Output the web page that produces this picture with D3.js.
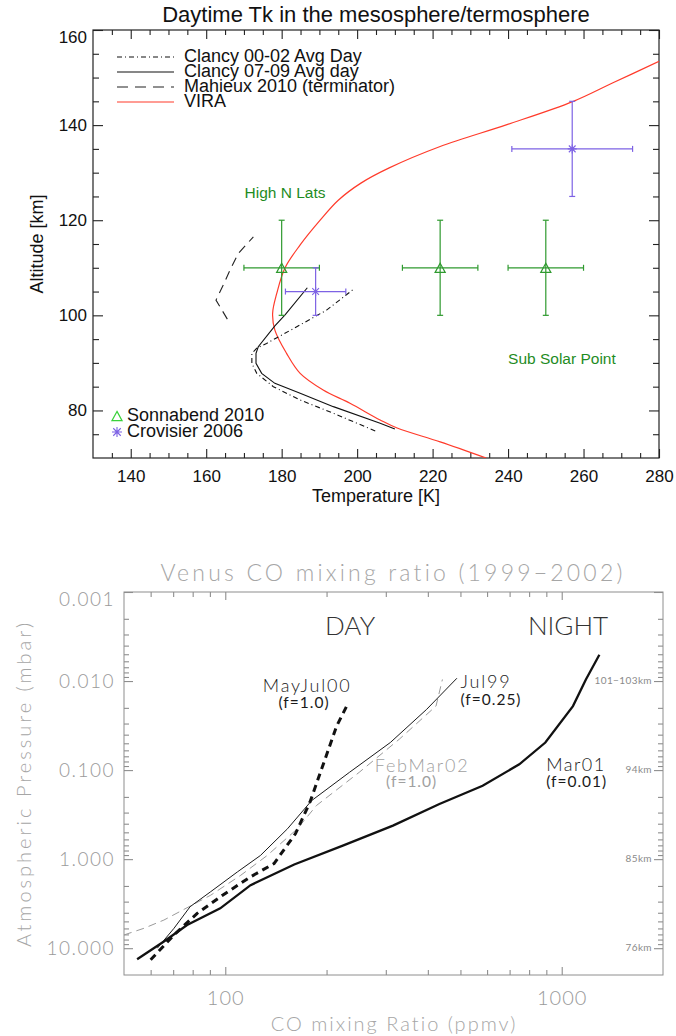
<!DOCTYPE html>
<html>
<head>
<meta charset="utf-8">
<script src="https://cdn.jsdelivr.net/npm/d3@7"></script>
<style>
  body { margin: 0; background: #fff; }
  svg { display: block; }
</style>
</head>
<body>
<svg id="chart" width="676" height="1036"></svg>
<script>
// ---------------- Panel 1: daytime kinetic temperature ----------------
const tempTicks = [140, 160, 180, 200, 220, 240, 260, 280];
const tempMinorTicks = d3.range(135, 280, 5).filter(d => d % 20 !== 0);
const altTicks = [80, 100, 120, 140, 160];
const altMinorTicks = d3.range(75, 160, 5).filter(d => d % 20 !== 0);

const viraTemp = [234.2, 222, 210.6, 206.1, 198.1, 191, 184.9, 181.3, 178.2, 177.6, 178.7, 180.9, 184.9, 190.2, 195, 201, 208.5, 222, 239.7, 257.3, 267.8, 280];
const viraAlt  = [70, 73.4, 76.3, 78, 81.5, 84.3, 87.8, 92, 96.9, 100.4, 104.6, 110, 114.8, 120, 124.2, 127.8, 131, 135.5, 140.1, 145, 148.9, 153.4];

const clancy0709Temp = [210, 206.1, 193.7, 184.9, 178.2, 174.7, 173.2, 173.2, 173.8, 178.2, 180.9, 186.8];
const clancy0709Alt  = [76.1, 77.3, 80.8, 83.6, 85.7, 87.8, 89.9, 92.0, 93.4, 97.8, 100.1, 105.8];

const clancy0002Temp = [204.8, 193.7, 184.9, 177.8, 173.4, 172.1, 172.1, 173.4, 176.0, 184.0, 191.9, 199.4];
const clancy0002Alt  = [75.7, 79.4, 82.2, 85.0, 87.8, 89.9, 92.0, 93.1, 94.1, 97.6, 101.1, 105.7];

const mahieuxTemp = [165.6, 162.6, 164.7, 166.3, 168.5, 172.5];
const mahieuxAlt  = [99.2, 103.2, 106.7, 109.5, 113.0, 116.5];

const sonnabendTemp    = [180, 222, 250];
const sonnabendAlt     = [110, 110, 110];
const sonnabendTempErr = [10, 10, 10];
const sonnabendAltErr  = [10, 10, 10];

const crovisierTemp    = [189, 257];
const crovisierAlt     = [105, 135];
const crovisierTempErr = [8, 16];
const crovisierAltErr  = [5, 10];

const legendNames = ["Clancy 00-02 Avg Day", "Clancy 07-09 Avg day", "Mahieux 2010 (terminator)", "VIRA"];

// ---------------- Panel 2: Venus CO mixing ratio ----------------
const ppmvTicks = [100, 1000];
const ppmvMinorTicks = [60, 70, 80, 90, 200, 300, 400, 500, 600, 700, 800, 900];
const pressTicks = [0.001, 0.01, 0.1, 1, 10];
const pressTickLabels = ["0.001", "0.010", "0.100", "1.000", "10.000"];
const pressMinorTicks = pressTicks.flatMap(d => d3.range(2, 10).map(k => +(k * d).toPrecision(3))).filter(v => v < 20);
const altMarkPress = [0.01, 0.1, 1, 10];
const altMarkLabels = ["101\u2212103km", "94km", "85km", "76km"];

const mar01Ppmv  = [54.7, 65.7, 77, 96.6, 118.9, 160.3, 224.5, 315, 433, 582, 748, 894, 1080, 1180, 1294];
const mar01Press = [13.3, 8.41, 5.49, 3.57, 1.96, 1.15, 0.70, 0.42, 0.24, 0.150, 0.086, 0.049, 0.0191, 0.0096, 0.00506];

const jul99Ppmv  = [62.8, 70.4, 78.6, 90.5, 108.7, 127.2, 153.1, 180.6, 233.9, 309.5, 396.7, 488];
const jul99Press = [10.0, 5.98, 3.42, 2.32, 1.39, 0.91, 0.456, 0.220, 0.106, 0.049, 0.0208, 0.0093];

const febMar02Ppmv  = [50, 57.3, 65.7, 90.5, 111.1, 133.2, 163.8, 186.6, 250, 329, 423, 442];
const febMar02Press = [7.1, 5.98, 4.83, 2.54, 1.52, 0.91, 0.456, 0.25, 0.106, 0.045, 0.0191, 0.0096];

const mayJul00Ppmv  = [60, 70.4, 82.5, 98.2, 118.9, 139.6, 161.6, 178.6, 199.6, 214.3, 229.6];
const mayJul00Press = [13.5, 7.1, 4.06, 2.54, 1.58, 1.12, 0.519, 0.228, 0.069, 0.032, 0.0191];

// =====================================================================
const svg = d3.select("#chart");
const zip = (a, b) => a.map((v, i) => [v, b[i]]);
const defs = svg.append("defs");

// ---------------- Panel 1 drawing ----------------
const p1 = { left: 93, right: 659, top: 30, bottom: 458 };
const x1 = d3.scaleLinear().domain([130, 280]).range([p1.left, p1.right]);
const y1 = d3.scaleLinear().domain([70, 160]).range([p1.bottom, p1.top]);
const font1 = "'Liberation Sans', Arial, Helvetica, sans-serif";
const g1 = svg.append("g").attr("font-family", font1);

defs.append("clipPath").attr("id", "clip1")
  .append("rect").attr("x", p1.left).attr("y", p1.top)
  .attr("width", p1.right - p1.left).attr("height", p1.bottom - p1.top);

function styleAxis(sel, color) {
  sel.select(".domain").remove();
  sel.selectAll(".tick line").attr("stroke", color).attr("stroke-width", 1.1);
}

// bottom / top x ticks
g1.append("g").attr("transform", `translate(0,${p1.bottom})`)
  .call(d3.axisBottom(x1).tickValues(tempTicks).tickSizeInner(-9).tickSizeOuter(0).tickPadding(12).tickFormat(d3.format("d")))
  .call(s => styleAxis(s, "#222"))
  .call(s => s.selectAll("text").attr("font-size", 17).attr("fill", "#111").attr("font-family", font1));
g1.append("g").attr("transform", `translate(0,${p1.bottom})`)
  .call(d3.axisBottom(x1).tickValues(tempMinorTicks).tickSizeInner(-5).tickSizeOuter(0).tickFormat(""))
  .call(s => styleAxis(s, "#222"));
g1.append("g").attr("transform", `translate(0,${p1.top})`)
  .call(d3.axisTop(x1).tickValues(tempTicks).tickSizeInner(-9).tickSizeOuter(0).tickFormat(""))
  .call(s => styleAxis(s, "#222"));
g1.append("g").attr("transform", `translate(0,${p1.top})`)
  .call(d3.axisTop(x1).tickValues(tempMinorTicks).tickSizeInner(-5).tickSizeOuter(0).tickFormat(""))
  .call(s => styleAxis(s, "#222"));

// left / right y ticks
g1.append("g").attr("transform", `translate(${p1.left},0)`)
  .call(d3.axisLeft(y1).tickValues(altTicks).tickSizeInner(-10).tickSizeOuter(0).tickPadding(6).tickFormat(d3.format("d")))
  .call(s => styleAxis(s, "#222"))
  .call(s => s.selectAll("text").attr("font-size", 17).attr("fill", "#111").attr("font-family", font1)
    .attr("dy", d => d === 160 ? "0.71em" : "0.32em"));
g1.append("g").attr("transform", `translate(${p1.left},0)`)
  .call(d3.axisLeft(y1).tickValues(altMinorTicks).tickSizeInner(-6).tickSizeOuter(0).tickFormat(""))
  .call(s => styleAxis(s, "#222"));
g1.append("g").attr("transform", `translate(${p1.right},0)`)
  .call(d3.axisRight(y1).tickValues(altTicks).tickSizeInner(-10).tickSizeOuter(0).tickFormat(""))
  .call(s => styleAxis(s, "#222"));
g1.append("g").attr("transform", `translate(${p1.right},0)`)
  .call(d3.axisRight(y1).tickValues(altMinorTicks).tickSizeInner(-6).tickSizeOuter(0).tickFormat(""))
  .call(s => styleAxis(s, "#222"));

// frame
g1.append("rect").attr("x", p1.left).attr("y", p1.top)
  .attr("width", p1.right - p1.left).attr("height", p1.bottom - p1.top)
  .attr("fill", "none").attr("stroke", "#222").attr("stroke-width", 1.2);

// titles
g1.append("text").attr("x", (p1.left + p1.right) / 2).attr("y", 22)
  .attr("text-anchor", "middle").attr("font-size", 22).attr("fill", "#111")
  .text("Daytime Tk in the mesosphere/termosphere");
g1.append("text").attr("x", (p1.left + p1.right) / 2).attr("y", 502)
  .attr("text-anchor", "middle").attr("font-size", 18).attr("fill", "#111")
  .text("Temperature [K]");
g1.append("text").attr("transform", `translate(43,${(p1.top + p1.bottom) / 2}) rotate(-90)`)
  .attr("text-anchor", "middle").attr("font-size", 18).attr("fill", "#111")
  .text("Altitude [km]");

// profiles
const curves = g1.append("g").attr("clip-path", "url(#clip1)").attr("fill", "none");
const smooth1 = d3.line().x(d => x1(d[0])).y(d => y1(d[1])).curve(d3.curveCatmullRom.alpha(0.5));
const line1 = d3.line().x(d => x1(d[0])).y(d => y1(d[1]));
curves.append("path").datum(zip(viraTemp, viraAlt))
  .attr("d", smooth1).attr("stroke", "#ff3b2b").attr("stroke-width", 1.2);
curves.append("path").datum(zip(clancy0709Temp, clancy0709Alt))
  .attr("d", line1).attr("stroke", "#111").attr("stroke-width", 1.1);
curves.append("path").datum(zip(clancy0002Temp, clancy0002Alt))
  .attr("d", line1).attr("stroke", "#111").attr("stroke-width", 1.1).attr("stroke-dasharray", "5,3,1,3");
curves.append("path").datum(zip(mahieuxTemp, mahieuxAlt))
  .attr("d", line1).attr("stroke", "#222").attr("stroke-width", 1.1).attr("stroke-dasharray", "9,6");

// error bars and markers
function errorBars(g, xs, ys, xe, ye, color) {
  const cap = 3;
  xs.forEach((t, i) => {
    const cx = x1(t), cy = y1(ys[i]);
    const xa = x1(t - xe[i]), xb = x1(t + xe[i]);
    const ya = y1(ys[i] - ye[i]), yb = y1(ys[i] + ye[i]);
    const eg = g.append("g").attr("stroke", color).attr("stroke-width", 1.2).attr("fill", "none");
    eg.append("line").attr("x1", xa).attr("x2", xb).attr("y1", cy).attr("y2", cy);
    eg.append("line").attr("x1", cx).attr("x2", cx).attr("y1", ya).attr("y2", yb);
    eg.append("line").attr("x1", xa).attr("x2", xa).attr("y1", cy - cap).attr("y2", cy + cap);
    eg.append("line").attr("x1", xb).attr("x2", xb).attr("y1", cy - cap).attr("y2", cy + cap);
    eg.append("line").attr("x1", cx - cap).attr("x2", cx + cap).attr("y1", ya).attr("y2", ya);
    eg.append("line").attr("x1", cx - cap).attr("x2", cx + cap).attr("y1", yb).attr("y2", yb);
  });
}
function triangle(g, cx, cy, color, r) {
  g.append("path").attr("d", `M${cx},${cy - r}L${cx + r * 1.1},${cy + r}L${cx - r * 1.1},${cy + r}Z`)
    .attr("fill", "none").attr("stroke", color).attr("stroke-width", 1.2);
}
function asterisk(g, cx, cy, color, r) {
  const d = r * 0.75;
  g.append("path")
    .attr("d", `M${cx - r},${cy}H${cx + r}M${cx},${cy - r}V${cy + r}M${cx - d},${cy - d}L${cx + d},${cy + d}M${cx - d},${cy + d}L${cx + d},${cy - d}`)
    .attr("stroke", color).attr("stroke-width", 1.1).attr("fill", "none");
}
const green = "#2f9a2f";
const purple = "#7d62e4";
errorBars(g1, sonnabendTemp, sonnabendAlt, sonnabendTempErr, sonnabendAltErr, green);
sonnabendTemp.forEach((t, i) => triangle(g1, x1(t), y1(sonnabendAlt[i]), green, 4.6));
errorBars(g1, crovisierTemp, crovisierAlt, crovisierTempErr, crovisierAltErr, purple);
crovisierTemp.forEach((t, i) => asterisk(g1, x1(t), y1(crovisierAlt[i]), purple, 4.5));

// annotations
g1.append("text").attr("x", x1(180.9)).attr("y", y1(124.7)).attr("text-anchor", "middle")
  .attr("font-size", 15.5).attr("fill", "#1f8c1f").text("High N Lats");
g1.append("text").attr("x", x1(240)).attr("y", y1(89.8)).attr("text-anchor", "start")
  .attr("font-size", 15.5).attr("fill", "#1f8c1f").text("Sub Solar Point");

// line legend
const legStyles = [
  { stroke: "#111", dash: "5,3,1,3" },
  { stroke: "#111", dash: null },
  { stroke: "#222", dash: "11,7" },
  { stroke: "#ff3b2b", dash: null }
];
legendNames.forEach((name, i) => {
  const by = 62 + i * 15;
  g1.append("line").attr("x1", p1.left + 24).attr("x2", p1.left + 81)
    .attr("y1", by - 5).attr("y2", by - 5)
    .attr("stroke", legStyles[i].stroke).attr("stroke-width", 1.1)
    .attr("stroke-dasharray", legStyles[i].dash);
  g1.append("text").attr("x", p1.left + 91).attr("y", by)
    .attr("font-size", 18).attr("fill", "#111").text(name);
});

// symbol legend
triangle(g1, p1.left + 24, 416, "#3ad13a", 4.6);
g1.append("text").attr("x", p1.left + 34).attr("y", 421).attr("font-size", 18).attr("fill", "#111").text("Sonnabend 2010");
asterisk(g1, p1.left + 24, 432, purple, 5);
g1.append("text").attr("x", p1.left + 34).attr("y", 437).attr("font-size", 18).attr("fill", "#111").text("Crovisier 2006");

// ---------------- Panel 2 drawing ----------------
const p2 = { left: 124, right: 663, top: 592, bottom: 975 };
const x2 = d3.scaleLog().domain([50, 2000]).range([p2.left, p2.right]);
const y2 = d3.scaleLog().domain([0.001, 20]).range([p2.top, p2.bottom]);
const font2 = "Lato, 'DejaVu Sans', sans-serif";
const axisGray = "#8e8e8e";
const g2 = svg.append("g").attr("font-family", font2).attr("font-weight", 300);

defs.append("clipPath").attr("id", "clip2")
  .append("rect").attr("x", p2.left).attr("y", p2.top)
  .attr("width", p2.right - p2.left).attr("height", p2.bottom - p2.top);

// x ticks
g2.append("g").attr("transform", `translate(0,${p2.bottom})`)
  .call(d3.axisBottom(x2).tickValues(ppmvTicks).tickSizeInner(-8).tickSizeOuter(0).tickPadding(16).tickFormat(d3.format("d")))
  .call(s => styleAxis(s, axisGray))
  .call(s => s.selectAll("text").attr("font-size", 20).attr("fill", "#9a9a9a").attr("font-family", font2)
    .attr("font-weight", 300).attr("letter-spacing", 1));
g2.append("g").attr("transform", `translate(0,${p2.bottom})`)
  .call(d3.axisBottom(x2).tickValues(ppmvMinorTicks).tickSizeInner(-5).tickSizeOuter(0).tickFormat(""))
  .call(s => styleAxis(s, axisGray));
g2.append("g").attr("transform", `translate(0,${p2.top})`)
  .call(d3.axisTop(x2).tickValues(ppmvTicks).tickSizeInner(-8).tickSizeOuter(0).tickFormat(""))
  .call(s => styleAxis(s, axisGray));
g2.append("g").attr("transform", `translate(0,${p2.top})`)
  .call(d3.axisTop(x2).tickValues(ppmvMinorTicks).tickSizeInner(-5).tickSizeOuter(0).tickFormat(""))
  .call(s => styleAxis(s, axisGray));

// y ticks
g2.append("g").attr("transform", `translate(${p2.left},0)`)
  .call(d3.axisLeft(y2).tickValues(pressTicks).tickSizeInner(-9).tickSizeOuter(0).tickPadding(9)
    .tickFormat((d, i) => pressTickLabels[i]))
  .call(s => styleAxis(s, axisGray))
  .call(s => s.selectAll("text").attr("font-size", 19).attr("fill", "#9a9a9a").attr("font-family", font2)
    .attr("font-weight", 300).attr("letter-spacing", 1.5)
    .attr("dy", d => d === 0.001 ? "0.71em" : "0.32em"));
g2.append("g").attr("transform", `translate(${p2.left},0)`)
  .call(d3.axisLeft(y2).tickValues(pressMinorTicks).tickSizeInner(-5).tickSizeOuter(0).tickFormat(""))
  .call(s => styleAxis(s, axisGray));
g2.append("g").attr("transform", `translate(${p2.right},0)`)
  .call(d3.axisRight(y2).tickValues(pressTicks).tickSizeInner(-9).tickSizeOuter(0).tickFormat(""))
  .call(s => styleAxis(s, axisGray));
g2.append("g").attr("transform", `translate(${p2.right},0)`)
  .call(d3.axisRight(y2).tickValues(pressMinorTicks).tickSizeInner(-5).tickSizeOuter(0).tickFormat(""))
  .call(s => styleAxis(s, axisGray));

// altitude marks along the right axis
altMarkPress.forEach((p, i) => {
  g2.append("text").attr("x", p2.right - 11).attr("y", y2(p)).attr("dy", "0.32em")
    .attr("text-anchor", "end").attr("font-size", 10).attr("fill", "#8a8a8a").attr("font-weight", 400)
    .attr("letter-spacing", 0.4).text(altMarkLabels[i]);
});

// frame
g2.append("rect").attr("x", p2.left).attr("y", p2.top)
  .attr("width", p2.right - p2.left).attr("height", p2.bottom - p2.top)
  .attr("fill", "none").attr("stroke", axisGray).attr("stroke-width", 1);

// titles
g2.append("text").attr("x", 393).attr("y", 581).attr("text-anchor", "middle")
  .attr("font-size", 23).attr("letter-spacing", 3.2).attr("fill", "#a6a6a6")
  .text("Venus CO mixing ratio (1999\u22122002)");
g2.append("text").attr("x", 394).attr("y", 1031).attr("text-anchor", "middle")
  .attr("font-size", 20).attr("letter-spacing", 2).attr("fill", "#a6a6a6")
  .text("CO mixing Ratio (ppmv)");
g2.append("text").attr("transform", `translate(31,${(p2.top + p2.bottom) / 2}) rotate(-90)`)
  .attr("text-anchor", "middle").attr("font-size", 20).attr("letter-spacing", 3).attr("fill", "#a6a6a6")
  .text("Atmospheric Pressure (mbar)");

// profiles
const line2 = d3.line().x(d => x2(d[0])).y(d => y2(d[1]));
const prof = g2.append("g").attr("clip-path", "url(#clip2)").attr("fill", "none");
prof.append("path").datum(zip(febMar02Ppmv, febMar02Press)).attr("d", line2)
  .attr("stroke", "#9a9a9a").attr("stroke-width", 1).attr("stroke-dasharray", "8,5");
prof.append("path").datum(zip(jul99Ppmv, jul99Press)).attr("d", line2)
  .attr("stroke", "#1a1a1a").attr("stroke-width", 1);
prof.append("path").datum(zip(mar01Ppmv, mar01Press)).attr("d", line2)
  .attr("stroke", "#111").attr("stroke-width", 2.3);
prof.append("path").datum(zip(mayJul00Ppmv, mayJul00Press)).attr("d", line2)
  .attr("stroke", "#111").attr("stroke-width", 3).attr("stroke-dasharray", "7,5");

// labels
const lab = (txt, xv, pv, size, anchor, color, spacing) =>
  g2.append("text").attr("x", x2(xv)).attr("y", y2(pv)).attr("text-anchor", anchor)
    .attr("font-size", size).attr("fill", color).attr("letter-spacing", spacing).text(txt);
lab("DAY", 235, 0.00304, 26, "middle", "#333", 0);
lab("NIGHT", 1044, 0.00304, 26, "middle", "#333", 0);
lab("MayJul00", 175.1, 0.0133, 18, "middle", "#1a1a1a", 1.8);
lab("(f=1.0)", 171.4, 0.0201, 15.5, "middle", "#1a1a1a", 1).attr("font-weight", 400);
lab("Jul99", 500, 0.012, 18, "start", "#1a1a1a", 1.8);
lab("(f=0.25)", 500, 0.0186, 15.5, "start", "#1a1a1a", 1).attr("font-weight", 400);
lab("FebMar02", 278, 0.105, 18, "start", "#a0a0a0", 1.8);
lab("(f=1.0)", 358, 0.155, 15.5, "middle", "#a0a0a0", 1).attr("font-weight", 400);
lab("Mar01", 899, 0.103, 18, "start", "#1a1a1a", 1.5);
lab("(f=0.01)", 899, 0.155, 15.5, "start", "#1a1a1a", 1).attr("font-weight", 400);
</script>
</body>
</html>
